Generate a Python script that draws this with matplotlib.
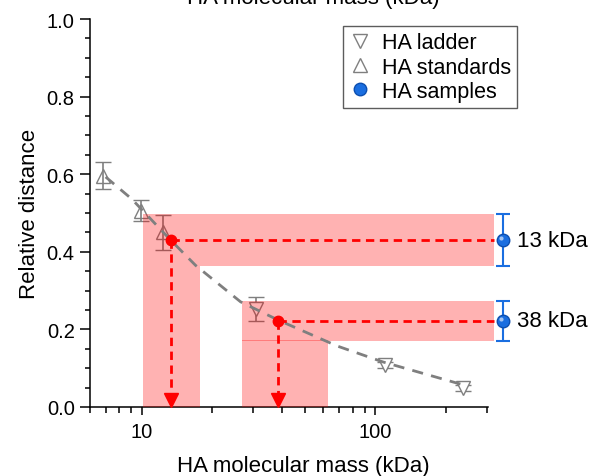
import matplotlib
matplotlib.use("Agg")
import matplotlib.pyplot as plt
from matplotlib.lines import Line2D

plt.rcParams['font.family'] = ['Liberation Sans', 'DejaVu Sans']

# HA standards (up triangles)
std_mw = [6.85, 9.9, 12.3]
std_rd = [0.596, 0.506, 0.450]
std_err = [0.035, 0.027, 0.045]

# HA ladder (down triangles)
lad_mw = [30.7, 110, 237]
lad_rd = [0.253, 0.108, 0.049]
lad_err = [0.031, 0.008, 0.008]

# calibration curve
fit_mw = [7.0, 9.06, 13.3, 17.0, 26.5, 38.4, 68.8, 108, 238]
fit_rd = [0.593, 0.536, 0.430, 0.365, 0.271, 0.224, 0.157, 0.116, 0.057]

# samples
smp_labels = ["13 kDa", "38 kDa"]
smp_mw = [13.3, 38.4]
smp_rd = [0.430, 0.222]
smp_lo = [0.363, 0.170]
smp_hi = [0.497, 0.273]
smp_mw_lo = [10.1, 27.0]
smp_mw_hi = [17.7, 63.0]
band_overlap = [0.0, 0.003]

x_right = 323
x_sample = 352
x_text = 405

grey = '#7f7f7f'
pink = 'red'
blue = '#1a6ee0'

fig = plt.figure(figsize=(6, 4.77), dpi=100)
ax = fig.add_axes([0.15, 0.1447, 0.6633, 0.8133])

ax.errorbar(lad_mw, lad_rd, yerr=lad_err, fmt='v', ms=10, mfc='white', mec=grey,
            mew=1, ecolor=grey, elinewidth=1.2, capsize=6, capthick=1.2, zorder=2)
ax.errorbar(std_mw, std_rd, yerr=std_err, fmt='^', ms=10, mfc='none', mec=grey,
            mew=1, ecolor=grey, elinewidth=1.2, capsize=6, capthick=1.2, zorder=2)

for i in range(2):
    # horizontal band (distance range) and vertical band (mass range)
    ax.fill_between([smp_mw_lo[i], x_right], smp_lo[i], smp_hi[i],
                    color=pink, alpha=0.3, lw=0, zorder=3, clip_on=False)
    ax.fill_between([smp_mw_lo[i], smp_mw_hi[i]], 0, smp_lo[i] + band_overlap[i],
                    color=pink, alpha=0.3, lw=0, zorder=3)

ax.plot(fit_mw, fit_rd, '--', color=grey, lw=2, dashes=(4, 3), zorder=4)

for i in range(2):
    ax.plot([smp_mw[i], x_right], [smp_rd[i], smp_rd[i]], '--', color='red',
            lw=2, dashes=(3, 2), zorder=5, clip_on=False)
    ax.plot([smp_mw[i], smp_mw[i]], [smp_rd[i], 0.03], '--', color='red',
            lw=2, dashes=(3, 2), zorder=5)
    ax.plot(smp_mw[i], 0.017, 'v', color='red', ms=9.5, zorder=6, clip_on=False)
    ax.plot(smp_mw[i], smp_rd[i], 'o', color='red', ms=7.5, zorder=6)
    ax.errorbar(x_sample, smp_rd[i],
                yerr=[[smp_rd[i] - smp_lo[i]], [smp_hi[i] - smp_rd[i]]],
                fmt='o', ms=9, color=blue, mec='#0d4fb0', ecolor=blue,
                elinewidth=1.5, capsize=5, capthick=1.5, zorder=7, clip_on=False)
    ax.plot(x_sample * 0.985, smp_rd[i] + 0.005, 'o', ms=3, color='white',
            alpha=0.6, mew=0, zorder=8, clip_on=False)
    ax.text(x_text, smp_rd[i], smp_labels[i], fontsize=16, va='center', ha='left')

ax.set_xscale('log')
ax.set_xlim(6.0, 304)
ax.set_ylim(0, 1.0)
ax.set_yticks([0.0, 0.2, 0.4, 0.6, 0.8, 1.0])
ax.set_yticks([i * 0.05 for i in range(21)], minor=True)
ax.set_xticks([10, 100])
ax.set_xticklabels(['10', '100'])
ax.tick_params(axis='both', which='major', labelsize=14.5, width=1.1)
ax.tick_params(axis='y', which='major', length=7, pad=4)
ax.tick_params(axis='y', which='minor', length=3.5, width=1.1)
ax.tick_params(axis='x', which='major', length=6, pad=5)
ax.tick_params(axis='x', which='minor', length=4, width=1.1)
ax.spines['top'].set_visible(False)
ax.spines['right'].set_visible(False)
for s in ['left', 'bottom']:
    ax.spines[s].set_linewidth(1.1)

ax.set_xlabel('HA molecular mass (kDa)', fontsize=16, labelpad=9)
ax.xaxis.set_label_coords(0.535, -0.125)
ax.xaxis.label.set_va('top')
ax.set_ylabel('Relative distance', fontsize=16, labelpad=5)
fig.text(313 / 600, 1 - 4 / 477, 'HA molecular mass (kDa)', fontsize=16,
         ha='center', va='baseline')

handles = [
    Line2D([], [], ls='none', marker='v', ms=10, mfc='none', mec=grey, mew=1),
    Line2D([], [], ls='none', marker='^', ms=10, mfc='none', mec=grey, mew=1),
    Line2D([], [], ls='none', marker='o', ms=9, color=blue, mec='#0d4fb0'),
]
leg = fig.legend(handles, ['HA ladder', 'HA standards', 'HA samples'],
                 loc='upper left', bbox_to_anchor=(343 / 600, 1 - 27 / 477),
                 fontsize=15.5, frameon=True, fancybox=False, borderaxespad=0,
                 handlelength=1.0, handletextpad=0.5, labelspacing=0.15,
                 borderpad=0.3)
leg.get_frame().set_edgecolor('#333333')
leg.get_frame().set_linewidth(1)

fig.savefig('out.png', dpi=100)
